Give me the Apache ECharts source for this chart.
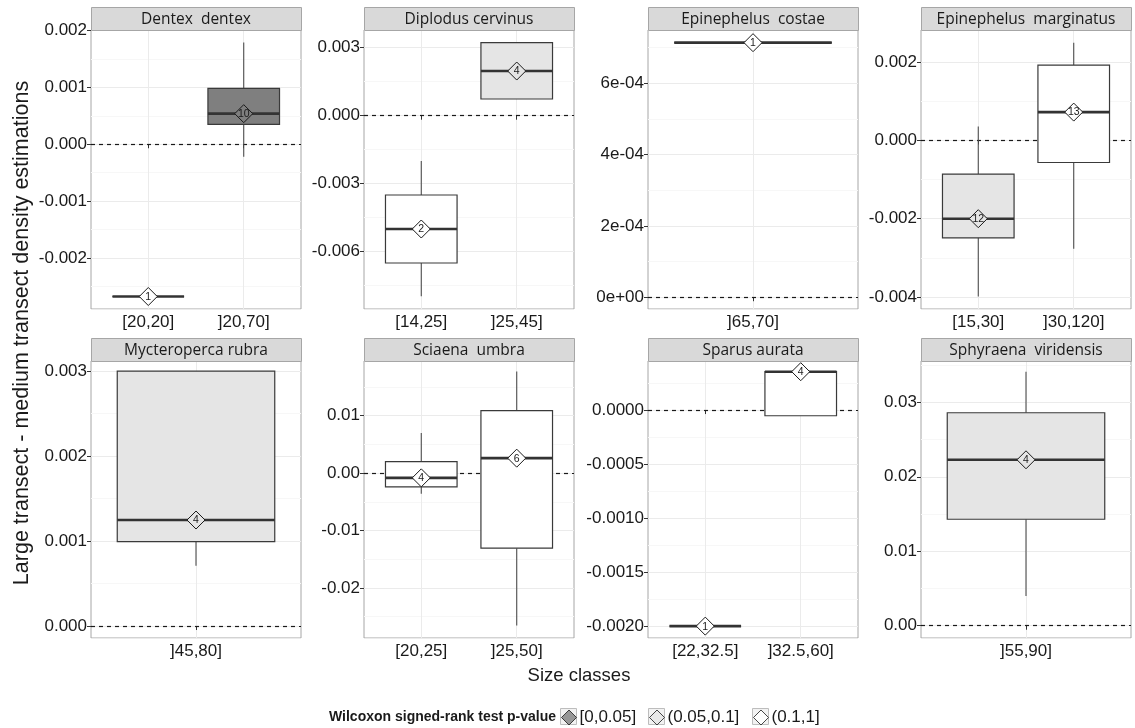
<!DOCTYPE html>
<html><head><meta charset="utf-8">
<script src="https://cdn.jsdelivr.net/npm/echarts@6/dist/echarts.min.js"></script>
<style>html,body{margin:0;padding:0;background:#fff}#c{width:1135px;height:728px}</style>
</head><body><div id="c"></div>
<script>
// ---------------- data ----------------
const species = ['Dentex  dentex', 'Diplodus cervinus', 'Epinephelus  costae', 'Epinephelus  marginatus',
                 'Mycteroperca rubra', 'Sciaena  umbra', 'Sparus aurata', 'Sphyraena  viridensis'];
const sizeClasses = [
  ['[20,20]', ']20,70]'],
  ['[14,25]', ']25,45]'],
  [']65,70]'],
  ['[15,30]', ']30,120]'],
  [']45,80]'],
  ['[20,25]', ']25,50]'],
  ['[22,32.5]', ']32.5,60]'],
  [']55,90]']
];
// each box: [lower whisker, Q1, median, Q3, upper whisker]
const boxStats = [
  [[-0.00268, -0.00268, -0.00268, -0.00268, -0.00268], [-0.000218, 0.000352, 0.000539, 0.000986, 0.00179]],
  [[-0.00797, -0.0065, -0.005, -0.0035, -0.002], [0.000737, 0.000737, 0.00197, 0.00322, 0.00322]],
  [[0.000714, 0.000714, 0.000714, 0.000714, 0.000714]],
  [[-0.00399, -0.00249, -0.002, -0.00086, 0.000358], [-0.00277, -0.000563, 0.000726, 0.00193, 0.0025]],
  [[0.00071, 0.000992, 0.001247, 0.003, 0.003]],
  [[-0.0036, -0.00239, -0.00082, 0.00202, 0.00697], [-0.02655, -0.01307, 0.00261, 0.0109, 0.0177]],
  [[-0.002, -0.002, -0.002, -0.002, -0.002], [-0.0000528, -0.0000528, 0.000355, 0.000355, 0.000355]],
  [[0.00399, 0.0143, 0.02228, 0.0286, 0.03411]]
];
const sampleSizes = [[1, 10], [2, 4], [1], [12, 13], [4], [4, 6], [1, 4], [4]];
const pValueClasses = ['[0,0.05]', '(0.05,0.1]', '(0.1,1]'];
// index into pValueClasses for each box
const pValueOfBox = [[2, 0], [2, 1], [2], [1, 2], [1], [2, 2], [2, 2], [1]];
// y-axis extents of each panel
const yRanges = [
  [-0.0029, 0.002012], [-0.00853, 0.003781], [-0.000033, 0.0007495], [-0.00431, 0.002826],
  [-0.000141, 0.003118], [-0.02871, 0.01953], [-0.00211, 0.000454], [-0.00165, 0.03555]
];

// ---------------- styles / layout ----------------
const FILLS = ['#7f7f7f', '#e5e5e5', '#ffffff'];
const tickFormat = [3, 3, 'sci', 3, 3, 2, 4, 2];
const splitNums = [5, 4, 4, 4, 3, 5, 5, 4];
const COLS = [91, 364, 648, 921];
const PW = 210;
const ROWS = [{ stripTop: 7, top: 30, h: 279 }, { stripTop: 338, top: 361, h: 277 }];
const STRIP_H = 23;
const STEP = 0.2; // discrete-axis sub-step (units of category spacing)
const TXT = '#1a1a1a';
const FONT = "'Liberation Sans', Arial, sans-serif";

function fmt(v, d) {
  if (Math.abs(v) < 1e-12) v = 0;
  if (d === 'sci') {
    if (v === 0) return '0e+00';
    const e = Math.floor(Math.log10(Math.abs(v)) + 1e-9);
    const m = Math.round(v / Math.pow(10, e));
    return m + 'e' + (e < 0 ? '-' : '+') + String(Math.abs(e)).padStart(2, '0');
  }
  return v.toFixed(d);
}

const grids = [], xAxes = [], yAxes = [], series = [], graphics = [];

species.forEach((name, i) => {
  const row = ROWS[Math.floor(i / 4)];
  const left = COLS[i % 4];
  const cats = sizeClasses[i];
  const nC = cats.length;
  const nSteps = Math.round((nC + 0.2) / STEP) + 1;
  const axisCats = [];
  for (let k = 0; k < nSteps; k++) axisCats.push('');
  const catIdx = cats.map((c, k) => Math.round((k + 1 - 0.4) / STEP));
  catIdx.forEach((ix, k) => { axisCats[ix] = cats[k]; });
  const boxUnits = nC === 1 ? 0.9 : 0.75;
  const boxSteps = boxUnits / STEP;

  grids.push({ left: left, top: row.top, width: PW, height: row.h, show: true,
    backgroundColor: '#fff', borderColor: '#a6a6a6', borderWidth: 1, containLabel: false, outerBoundsMode: 'none' });

  const isCat = (idx, val) => val !== '';
  xAxes.push({
    type: 'category', gridIndex: i, data: axisCats, boundaryGap: false,
    axisLine: { show: false },
    axisTick: { show: true, interval: isCat, length: 4, lineStyle: { color: '#333', width: 1 } },
    axisLabel: { interval: isCat, fontSize: 17, color: TXT, fontFamily: FONT, margin: 5 },
    splitLine: { show: true, interval: isCat, lineStyle: { color: '#ebebeb', width: 1 } }
  });
  yAxes.push({
    type: 'value', gridIndex: i, min: yRanges[i][0], max: yRanges[i][1], splitNumber: splitNums[i],
    axisLine: { show: false },
    axisTick: { show: true, length: 4, lineStyle: { color: '#333', width: 1 } },
    axisLabel: { fontSize: 17, color: TXT, fontFamily: FONT, margin: 4, showMinLabel: false, showMaxLabel: false,
      formatter: (v) => fmt(v, tickFormat[i]) },
    splitLine: { show: true, lineStyle: { color: '#ebebeb', width: 1 } },
    minorTick: { show: false, splitNumber: 2 },
    minorSplitLine: { show: true, lineStyle: { color: '#f7f7f7', width: 1 } }
  });

  const data = cats.map((c, k) => [catIdx[k]].concat(boxStats[i][k], [sampleSizes[i][k], pValueOfBox[i][k]]));

  series.push({
    type: 'custom', xAxisIndex: i, yAxisIndex: i, z: 3, animation: false, silent: true,
    encode: { x: 0, y: [1, 2, 3, 4, 5] },
    data: data,
    renderItem: function (params, api) {
      const xi = api.value(0);
      const lo = api.value(1), q1 = api.value(2), med = api.value(3), q3 = api.value(4), hi = api.value(5);
      const n = api.value(6), p = api.value(7);
      const bw = api.size([1, 0])[0] * boxSteps;
      const pLo = api.coord([xi, lo]), pQ1 = api.coord([xi, q1]), pMed = api.coord([xi, med]);
      const pQ3 = api.coord([xi, q3]), pHi = api.coord([xi, hi]);
      const cx = pMed[0];
      const ch = [];
      ch.push({ type: 'line', shape: { x1: cx, y1: pHi[1], x2: cx, y2: pQ3[1] }, style: { stroke: '#4d4d4d', lineWidth: 1.1 } });
      ch.push({ type: 'line', shape: { x1: cx, y1: pQ1[1], x2: cx, y2: pLo[1] }, style: { stroke: '#4d4d4d', lineWidth: 1.1 } });
      ch.push({ type: 'rect', shape: { x: cx - bw / 2, y: pQ3[1], width: bw, height: pQ1[1] - pQ3[1] },
        style: { fill: FILLS[p], stroke: '#3a3a3a', lineWidth: 1.2 } });
      ch.push({ type: 'line', shape: { x1: cx - bw / 2, y1: pMed[1], x2: cx + bw / 2, y2: pMed[1] }, style: { stroke: '#333', lineWidth: 2.6 } });
      const h = 9;
      ch.push({ type: 'polygon', shape: { points: [[cx, pMed[1] - h], [cx + h, pMed[1]], [cx, pMed[1] + h], [cx - h, pMed[1]]] },
        style: { fill: FILLS[p], stroke: '#1a1a1a', lineWidth: 1 } });
      ch.push({ type: 'text', x: cx, y: pMed[1] + 0.5, style: { text: String(n), align: 'center', verticalAlign: 'middle',
        fontSize: 10.5, fontFamily: FONT, fill: TXT } });
      return { type: 'group', children: ch };
    },
    markLine: {
      silent: true, z: 1, animation: false, symbol: ['none', 'none'], label: { show: false },
      lineStyle: { type: [4, 4], color: '#1a1a1a', width: 1.2 },
      data: [{ yAxis: 0 }]
    }
  });

  // facet strip
  graphics.push({ type: 'rect', shape: { x: left + 0.5, y: row.stripTop + 0.5, width: PW, height: STRIP_H },
    style: { fill: '#d9d9d9', stroke: '#a6a6a6', lineWidth: 1 }, z: 10 });
  graphics.push({ type: 'text', x: left + PW / 2, y: row.stripTop + STRIP_H / 2 + 1, z: 11,
    style: { text: name, align: 'center', verticalAlign: 'middle', fontSize: 15.5, fontFamily: "'Open Sans', sans-serif", fill: TXT } });
});

// legend dummy series
pValueClasses.forEach((nm, k) => {
  series.push({ type: 'scatter', name: nm, xAxisIndex: 0, yAxisIndex: 0, data: [], symbol: 'diamond',
    itemStyle: { color: FILLS[k], borderColor: '#1a1a1a', borderWidth: 1 } });
});

const LEG_X = [561, 649, 753];
const LEG_Y = 709;
const legends = pValueClasses.map((nm, k) => ({
  left: LEG_X[k], top: LEG_Y, padding: 0, itemWidth: 15, itemHeight: 15, selectedMode: false,
  textStyle: { fontSize: 17, color: TXT, fontFamily: FONT, padding: [0, 0, 0, -2] },
  data: [{ name: nm, icon: 'diamond', itemStyle: { color: FILLS[k], borderColor: '#1a1a1a', borderWidth: 1 } }]
}));
LEG_X.forEach((x) => {
  graphics.push({ type: 'rect', shape: { x: x - 0.5, y: LEG_Y - 0.5, width: 16, height: 16 },
    style: { fill: '#f2f2f2', stroke: '#bdbdbd', lineWidth: 1 }, z: -1 });
});
graphics.push({ type: 'text', x: 329, y: LEG_Y + 8, style: { text: 'Wilcoxon signed-rank test p-value', align: 'left',
  verticalAlign: 'middle', fontSize: 14, fontWeight: 'bold', fontFamily: FONT, fill: TXT } });

// axis titles
graphics.push({ type: 'text', x: 22, y: 333, rotation: Math.PI / 2, style: { text: 'Large transect - medium transect density estimations',
  align: 'center', verticalAlign: 'middle', fontSize: 21.5, fontFamily: FONT, fill: TXT } });
graphics.push({ type: 'text', x: 579, y: 676, style: { text: 'Size classes', align: 'center', verticalAlign: 'middle',
  fontSize: 18.5, fontFamily: FONT, fill: TXT } });

const chart = echarts.init(document.getElementById('c'), null, { renderer: 'canvas' });
chart.setOption({
  animation: false,
  backgroundColor: '#ffffff',
  grid: grids, xAxis: xAxes, yAxis: yAxes, series: series,
  legend: legends,
  graphic: { elements: graphics }
});
</script></body></html>
